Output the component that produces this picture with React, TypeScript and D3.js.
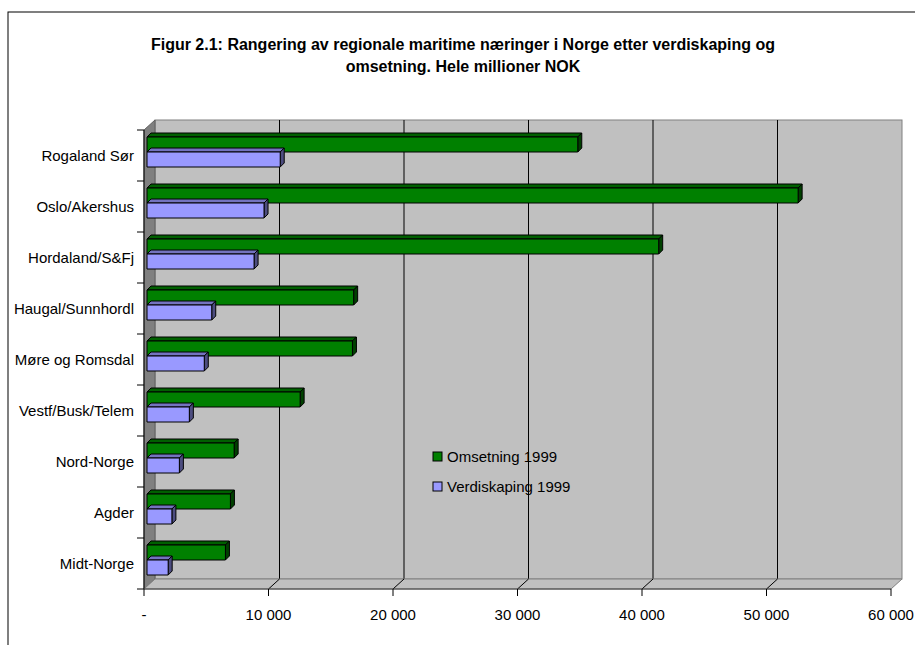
import React from 'react';
import * as d3 from 'd3';

const categories = [
  'Rogaland Sør',
  'Oslo/Akershus',
  'Hordaland/S&Fj',
  'Haugal/Sunnhordl',
  'Møre og Romsdal',
  'Vestf/Busk/Telem',
  'Nord-Norge',
  'Agder',
  'Midt-Norge',
];
const omsetning = [34600, 52300, 41100, 16600, 16500, 12300, 7000, 6700, 6300];
const verdiskaping = [10700, 9400, 8600, 5200, 4600, 3400, 2600, 2000, 1700];
const xTicks = [0, 10000, 20000, 30000, 40000, 50000, 60000];
const seriesNames = ['Omsetning 1999', 'Verdiskaping 1999'];

const font = 'Arial, "Liberation Sans", sans-serif';

// 3D depth of the plot box and of the bars
const depth = { dx: 11, dy: -10 };
const barOff = { dx: 3, dy: -3 };
const barDepth = { dx: 4, dy: -4 };

const styles = [
  { front: '#008000', top: '#006000', side: '#004000' },
  { front: '#9999ff', top: '#7373bf', side: '#4d4d80' },
];

const fmt = (v: number) => (v === 0 ? '-' : d3.format(',')(v).replace(/,/g, ' '));

const App: React.FC = () => {
  const width = 915;
  const height = 645;

  const x = d3.scaleLinear().domain([0, 60000]).range([144, 891]);
  const y = d3.scaleBand<string>().domain(categories).range([130, 589]).padding(0);

  const x0 = x(0);
  const x1 = x(60000);
  const yTop = 130;
  const yBot = 589;

  const bars: { cat: string; v: number; s: number }[] = [];
  categories.forEach((c, i) => {
    bars.push({ cat: c, v: omsetning[i], s: 0 });
    bars.push({ cat: c, v: verdiskaping[i], s: 1 });
  });

  const barH = 15;

  return (
    <svg
      width={width}
      height={height}
      style={{ position: 'absolute', left: 0, top: 0, display: 'block', background: '#fff' }}
    >
      {/* outer frame */}
      <rect x={8} y={12} width={width} height={height} fill="#fff" stroke="#000" strokeWidth={1} />

      {/* title */}
      <text x={463} y={44} dy="0.35em" textAnchor="middle" fontFamily={font} fontWeight="bold" fontSize={16}>
        Figur 2.1: Rangering av regionale maritime næringer i Norge etter verdiskaping og
      </text>
      <text x={463} y={66} dy="0.35em" textAnchor="middle" fontFamily={font} fontWeight="bold" fontSize={16}>
        omsetning. Hele millioner NOK
      </text>

      {/* back wall */}
      <rect
        x={x0 + depth.dx}
        y={yTop + depth.dy}
        width={x1 - x0}
        height={yBot - yTop}
        fill="#c0c0c0"
        stroke="#808080"
      />
      {xTicks.slice(1, -1).map((t) => (
        <line
          key={'g' + t}
          x1={x(t) + depth.dx}
          x2={x(t) + depth.dx}
          y1={yTop + depth.dy}
          y2={yBot + depth.dy}
          stroke="#000"
        />
      ))}

      {/* side wall */}
      <polygon
        points={`${x0},${yTop} ${x0 + depth.dx},${yTop + depth.dy} ${x0 + depth.dx},${yBot + depth.dy} ${x0},${yBot}`}
        fill="#808080"
        stroke="#606060"
      />

      {/* floor */}
      <polygon
        points={`${x0},${yBot} ${x1},${yBot} ${x1 + depth.dx},${yBot + depth.dy} ${x0 + depth.dx},${yBot + depth.dy}`}
        fill="#c0c0c0"
        stroke="#808080"
      />
      {xTicks.slice(1, -1).map((t) => (
        <line
          key={'f' + t}
          x1={x(t)}
          x2={x(t) + depth.dx}
          y1={yBot}
          y2={yBot + depth.dy}
          stroke="#000"
        />
      ))}

      {/* bars */}
      {bars.map((b, i) => {
        const bx0 = x0 + barOff.dx;
        const bx1 = x(b.v) + barOff.dx;
        const by = (y(b.cat) as number) + 10 + barOff.dy + b.s * barH;
        const st = styles[b.s];
        return (
          <g key={i} stroke="#000" strokeWidth={1} strokeLinejoin="round">
            <polygon
              points={`${bx0},${by} ${bx0 + barDepth.dx},${by + barDepth.dy} ${bx1 + barDepth.dx},${by + barDepth.dy} ${bx1},${by}`}
              fill={st.top}
            />
            <polygon
              points={`${bx1},${by} ${bx1 + barDepth.dx},${by + barDepth.dy} ${bx1 + barDepth.dx},${by + barH + barDepth.dy} ${bx1},${by + barH}`}
              fill={st.side}
            />
            <rect x={bx0} y={by} width={bx1 - bx0} height={barH} fill={st.front} />
          </g>
        );
      })}

      {/* left axis */}
      <line x1={x0} x2={x0} y1={yTop} y2={yBot} stroke="#000" />
      {categories.concat(['__end']).map((c, i) => {
        const yy = i < categories.length ? (y(c) as number) : yBot;
        return <line key={'t' + i} x1={x0 - 7} x2={x0} y1={yy} y2={yy} stroke="#000" />;
      })}
      {categories.map((c) => (
        <text
          key={'l' + c}
          x={134}
          y={(y(c) as number) + y.bandwidth() / 2}
          dy="0.35em"
          textAnchor="end"
          fontFamily={font}
          fontSize={15}
        >
          {c}
        </text>
      ))}

      {/* bottom axis */}
      <line x1={x0} x2={x1} y1={yBot} y2={yBot} stroke="#404040" />
      {xTicks.map((t) => (
        <g key={'x' + t}>
          <line x1={x(t)} x2={x(t)} y1={yBot} y2={yBot + 7} stroke="#000" />
          <text x={x(t)} y={615} dy="0.35em" textAnchor="middle" fontFamily={font} fontSize={15}>
            {fmt(t)}
          </text>
        </g>
      ))}

      {/* legend */}
      {seriesNames.map((n, i) => (
        <g key={n} transform={`translate(433, ${452 + i * 30})`}>
          <rect x={0} y={0} width={9} height={9} fill={styles[i].front} stroke="#000" />
          <text x={14} y={4.5} dy="0.35em" fontFamily={font} fontSize={15}>
            {n}
          </text>
        </g>
      ))}
    </svg>
  );
};

export default App;
